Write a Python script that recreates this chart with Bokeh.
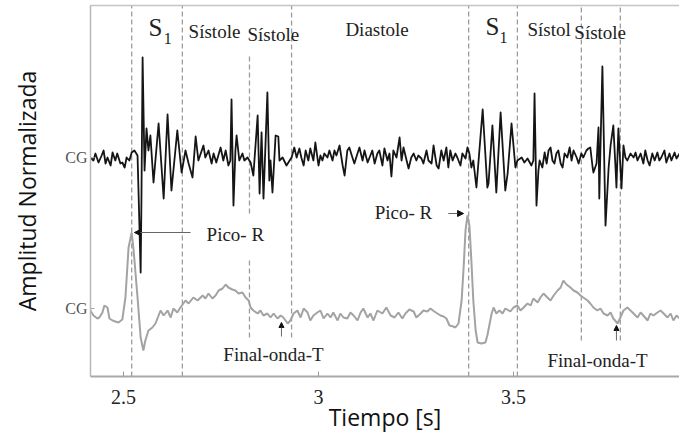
from bokeh.plotting import figure
from bokeh.models import (Range1d, LinearAxis, FixedTicker, CustomJSTickFormatter,
                          Label, Arrow, NormalHead)
from bokeh.embed import file_html
from bokeh.resources import INLINE

# ---------------- data ----------------
# PCG (black trace): time [s] and normalized amplitude around its own baseline
pcg_t = [2.415, 2.423, 2.428, 2.436, 2.444, 2.449, 2.454, 2.459, 2.467, 2.472,
         2.479, 2.484, 2.492, 2.497, 2.503, 2.508, 2.515, 2.521, 2.528, 2.536,
         2.538, 2.544, 2.546, 2.549, 2.554, 2.559, 2.564, 2.569, 2.577, 2.590,
         2.603, 2.613, 2.623, 2.638, 2.649, 2.659, 2.667, 2.677, 2.685, 2.692,
         2.705, 2.710, 2.718, 2.726, 2.731, 2.738, 2.749, 2.756, 2.762, 2.769,
         2.774, 2.777, 2.782, 2.787, 2.790, 2.797, 2.805, 2.810, 2.818, 2.826,
         2.833, 2.844, 2.849, 2.854, 2.859, 2.869, 2.874, 2.877, 2.882, 2.890,
         2.897, 2.900, 2.908, 2.918, 2.926, 2.931, 2.938, 2.944, 2.951, 2.956,
         2.962, 2.967, 2.974, 2.979, 2.987, 2.992, 3.000, 3.005, 3.010, 3.015,
         3.023, 3.028, 3.036, 3.041, 3.046, 3.054, 3.062, 3.067, 3.074, 3.079,
         3.087, 3.092, 3.100, 3.105, 3.113, 3.118, 3.126, 3.131, 3.138, 3.144,
         3.151, 3.156, 3.164, 3.169, 3.177, 3.182, 3.187, 3.192, 3.200, 3.208,
         3.213, 3.218, 3.226, 3.231, 3.238, 3.244, 3.251, 3.256, 3.264, 3.269,
         3.277, 3.282, 3.290, 3.295, 3.303, 3.308, 3.315, 3.321, 3.328, 3.333,
         3.338, 3.344, 3.351, 3.356, 3.364, 3.369, 3.377, 3.382, 3.387, 3.392,
         3.397, 3.405, 3.421, 3.433, 3.436, 3.446, 3.456, 3.467, 3.479, 3.485,
         3.495, 3.505, 3.510, 3.521, 3.528, 3.536, 3.546, 3.551, 3.554, 3.559,
         3.564, 3.567, 3.574, 3.580, 3.585, 3.590, 3.595, 3.600, 3.605, 3.610,
         3.615, 3.621, 3.626, 3.631, 3.638, 3.644, 3.649, 3.654, 3.662, 3.667,
         3.674, 3.679, 3.687, 3.692, 3.697, 3.703, 3.705, 3.713, 3.718, 3.720,
         3.728, 3.736, 3.744, 3.749, 3.756, 3.762, 3.764, 3.769, 3.777, 3.782,
         3.787, 3.792, 3.800, 3.808, 3.813, 3.818, 3.826, 3.833, 3.838, 3.844,
         3.849, 3.856, 3.862, 3.869, 3.874, 3.879, 3.887, 3.892, 3.900, 3.905,
         3.913, 3.918, 3.926]
pcg_a = [0.00, -0.03, 0.04, -0.05, 0.02, 0.07, -0.06, 0.00, -0.08, 0.05,
         -0.03, 0.04, -0.06, -0.05, -0.10, 0.00, -0.03, 0.05, 0.07, 0.02,
         -0.26, -1.15, -0.43, 1.00, -0.13, 0.29, 0.07, 0.22, -0.25, 0.34,
         -0.41, 0.43, -0.33, 0.27, -0.15, 0.07, -0.06, -0.20, 0.21, -0.03,
         0.12, 0.00, 0.07, -0.06, 0.04, -0.05, 0.10, -0.03, 0.07, -0.08,
         -0.03, 0.58, -0.48, 0.07, 0.22, -0.03, 0.04, -0.03, 0.00, -0.05,
         -0.18, 0.42, -0.36, 0.25, -0.41, 0.65, -0.23, -0.03, -0.35, 0.22,
         0.21, -0.03, 0.00, -0.08, -0.03, 0.00, 0.10, 0.00, 0.09, 0.00,
         -0.08, 0.07, -0.03, 0.09, -0.03, 0.15, -0.08, 0.02, -0.03, 0.04,
         0.00, 0.07, -0.03, 0.07, 0.02, 0.12, -0.08, -0.18, 0.07, 0.10,
         0.00, -0.06, 0.04, 0.10, -0.03, 0.07, -0.05, 0.00, 0.07, -0.06,
         0.04, 0.07, -0.08, 0.09, -0.03, 0.04, -0.19, 0.07, 0.00, 0.20,
         -0.03, 0.10, -0.03, -0.11, 0.00, 0.04, -0.03, 0.02, -0.01, -0.06,
         0.07, -0.03, -0.06, 0.12, -0.08, -0.11, 0.07, -0.03, 0.10, -0.10,
         0.07, -0.03, 0.04, 0.00, -0.08, 0.04, -0.01, 0.10, 0.04, -0.10,
         -0.03, -0.30, 0.48, -0.30, -0.26, 0.32, -0.35, 0.45, -0.33, -0.16,
         0.34, -0.10, -0.03, 0.00, -0.05, -0.01, -0.08, -0.03, 0.64, -0.48,
         -0.13, -0.03, -0.10, 0.05, -0.06, 0.07, 0.10, -0.03, -0.06, 0.04,
         0.07, -0.06, -0.10, 0.04, 0.00, 0.10, -0.03, 0.07, 0.00, -0.06,
         0.04, 0.00, 0.07, 0.09, 0.10, -0.10, -0.15, -0.06, 0.30, -0.41,
         0.91, -0.68, -0.10, 0.12, 0.32, -0.13, -0.30, 0.29, -0.31, 0.12,
         0.00, -0.03, 0.04, 0.00, 0.05, -0.03, 0.04, -0.06, 0.07, -0.03,
         -0.08, 0.04, -0.03, 0.05, -0.03, 0.00, 0.07, -0.05, 0.04, -0.03,
         0.05, -0.01, 0.04]

# ECG (gray trace)
ecg_t = [2.415, 2.423, 2.433, 2.438, 2.446, 2.451, 2.459, 2.464, 2.472, 2.479,
         2.487, 2.497, 2.505, 2.513, 2.521, 2.526, 2.536, 2.544, 2.551, 2.556,
         2.564, 2.574, 2.582, 2.595, 2.603, 2.613, 2.621, 2.628, 2.638, 2.646,
         2.659, 2.667, 2.679, 2.690, 2.703, 2.710, 2.718, 2.728, 2.736, 2.744,
         2.754, 2.762, 2.769, 2.779, 2.787, 2.795, 2.805, 2.813, 2.821, 2.826,
         2.833, 2.844, 2.851, 2.859, 2.869, 2.877, 2.885, 2.895, 2.903, 2.910,
         2.921, 2.928, 2.936, 2.946, 2.954, 2.962, 2.972, 2.979, 2.987, 2.997,
         3.005, 3.013, 3.023, 3.031, 3.038, 3.049, 3.056, 3.064, 3.074, 3.082,
         3.090, 3.100, 3.108, 3.115, 3.126, 3.133, 3.141, 3.151, 3.164, 3.174,
         3.185, 3.195, 3.205, 3.215, 3.223, 3.233, 3.244, 3.251, 3.262, 3.269,
         3.279, 3.287, 3.297, 3.305, 3.313, 3.321, 3.328, 3.336, 3.346, 3.351,
         3.359, 3.367, 3.372, 3.377, 3.382, 3.387, 3.392, 3.397, 3.403, 3.408,
         3.418, 3.428, 3.433, 3.438, 3.444, 3.449, 3.456, 3.464, 3.472, 3.479,
         3.492, 3.500, 3.510, 3.518, 3.526, 3.536, 3.544, 3.551, 3.562, 3.569,
         3.577, 3.587, 3.595, 3.603, 3.613, 3.621, 3.628, 3.636, 3.646, 3.654,
         3.664, 3.672, 3.679, 3.690, 3.697, 3.705, 3.715, 3.723, 3.731, 3.741,
         3.749, 3.756, 3.767, 3.774, 3.782, 3.792, 3.800, 3.808, 3.818, 3.826,
         3.833, 3.844, 3.851, 3.859, 3.869, 3.877, 3.885, 3.895, 3.903, 3.910,
         3.918, 3.926]
ecg_a = [-0.02, -0.07, -0.10, -0.09, -0.04, 0.03, 0.01, -0.10, -0.12, -0.13,
         -0.14, -0.11, 0.11, 0.61, 0.76, 0.58, 0.11, -0.29, -0.42, -0.32,
         -0.22, -0.19, -0.15, -0.02, -0.07, -0.02, -0.09, 0.00, -0.04, 0.01,
         0.08, 0.05, 0.11, 0.08, 0.13, 0.10, 0.15, 0.10, 0.13, 0.18,
         0.20, 0.24, 0.21, 0.19, 0.18, 0.15, 0.16, 0.11, 0.08, 0.01,
         -0.02, -0.05, -0.02, -0.07, -0.05, -0.09, -0.05, -0.10, -0.07, -0.09,
         -0.15, -0.12, -0.05, -0.02, -0.09, 0.00, -0.04, -0.12, -0.07, -0.04,
         -0.02, -0.10, -0.05, -0.09, -0.04, -0.12, -0.05, -0.09, -0.10, -0.04,
         -0.07, -0.12, -0.04, 0.00, -0.09, -0.05, -0.12, -0.02, -0.05, 0.01,
         -0.07, -0.09, -0.04, -0.10, -0.05, -0.01, -0.03, -0.09, -0.05, -0.02,
         -0.03, 0.00, -0.03, -0.05, -0.07, -0.08, -0.10, -0.17, -0.18, -0.19,
         -0.15, 0.08, 0.40, 0.78, 0.93, 0.83, 0.48, 0.08, -0.22, -0.34,
         -0.35, -0.34, -0.27, -0.17, -0.05, 0.01, -0.05, -0.02, -0.05, 0.00,
         -0.03, 0.01, 0.03, -0.02, 0.01, 0.05, 0.03, 0.10, 0.06, 0.11,
         0.15, 0.11, 0.08, 0.13, 0.18, 0.21, 0.28, 0.24, 0.21, 0.18,
         0.16, 0.13, 0.11, 0.08, 0.05, 0.01, -0.02, 0.00, -0.05, -0.07,
         -0.04, -0.10, -0.15, -0.09, -0.02, 0.01, -0.02, -0.05, -0.09, -0.04,
         -0.07, -0.12, -0.05, -0.07, -0.04, -0.02, -0.05, -0.09, -0.05, -0.12,
         -0.07, -0.10]

# event markers (dashed lines), seconds
eventos_t = [2.521, 2.651, 2.823, 2.931, 3.385, 3.510, 3.674, 3.774]
x_ticks = [2.5, 3.0, 3.5]

# ---------------- layout ----------------
PCG_OFF = 1.51
ECG_OFF = 0.0
Y0, Y1 = -0.68, 3.03
X0, X1 = 2.4154, 3.9257
SERIF = "Liberation Serif"
SANS = "Open Sans"

p = figure(width=679, height=437, x_range=Range1d(X0, X1), y_range=Range1d(Y0, Y1),
           output_backend="svg", toolbar_location=None,
           min_border_left=90, min_border_right=0, min_border_top=5, min_border_bottom=61,
           x_axis_label="Tiempo [s]", y_axis_label="Amplitud Normalizada")
p.grid.visible = False
p.outline_line_color = None
p.background_fill_color = "white"
p.border_fill_color = "white"

# x axis
xa = p.xaxis[0]
xa.ticker = FixedTicker(ticks=x_ticks, minor_ticks=[])
xa.formatter = CustomJSTickFormatter(code="return String(tick)")
xa.major_label_text_font = SERIF
xa.major_label_text_font_size = "20px"
xa.major_label_text_color = "#222222"
xa.major_label_standoff = 13
xa.major_tick_in = 5
xa.major_tick_out = 0
xa.minor_tick_line_color = None
xa.major_tick_line_color = "#9a9a9a"
xa.axis_line_color = "#a8a8a8"
xa.axis_line_width = 2
xa.axis_label_text_font = SANS
xa.axis_label_text_font_size = "23px"
xa.axis_label_text_font_style = "normal"
xa.axis_label_text_color = "#111111"
xa.axis_label_standoff = -6

# y axis
ya = p.yaxis[0]
ya.ticker = FixedTicker(ticks=[ECG_OFF, PCG_OFF], minor_ticks=[])
ya.formatter = CustomJSTickFormatter(code="return 'CG'")
ya.major_label_text_font = SERIF
ya.major_label_text_font_size = "16px"
ya.major_label_text_color = "#555555"
ya.major_label_standoff = 3
ya.major_tick_in = 4
ya.major_tick_out = 0
ya.major_tick_line_color = "#aaaaaa"
ya.minor_tick_line_color = None
ya.axis_line_color = "#b8b8b8"
ya.axis_line_width = 1.5
ya.axis_label_text_font = SANS
ya.axis_label_text_font_size = "23px"
ya.axis_label_text_font_style = "normal"
ya.axis_label_text_color = "#111111"
ya.axis_label_standoff = 19

# top border: an axis line with no ticks or labels
top = LinearAxis(ticker=FixedTicker(ticks=[], minor_ticks=[]),
                 major_label_standoff=0, major_tick_in=0, major_tick_out=0,
                 minor_tick_line_color=None, major_tick_line_color=None,
                 axis_line_color="#c4c4c4", axis_line_width=1.5)
p.add_layout(top, "above")

# dashed event lines
seg_x, seg_y0, seg_y1 = [], [], []
extents = [[(Y0, Y1)], [(Y0, Y1)], [(0.95, 2.53), (-0.29, 0.48)], [(-0.29, Y1)],
           [(Y0, Y1)], [(Y0, Y1)], [(-0.32, 3.01)], [(-0.32, Y1)]]
for t, ext in zip(eventos_t, extents):
    for a, b in ext:
        seg_x.append(t)
        seg_y0.append(a)
        seg_y1.append(b)
p.segment(x0=seg_x, y0=seg_y0, x1=seg_x, y1=seg_y1, line_dash="5 3",
          line_color="#9c9c9c", line_width=1.3)

# traces
p.line(ecg_t, [ECG_OFF + v for v in ecg_a], line_color="#a3a3a3", line_width=2)
p.line(pcg_t, [PCG_OFF + v for v in pcg_a], line_color="#151515", line_width=1.8,
       line_join="round")

# annotations
def lab(x, y, text, size="19px", color="#222222"):
    p.add_layout(Label(x=x, y=y, text=text, text_font=SERIF, text_font_size=size,
                       text_color=color, text_baseline="middle", text_align="left"))

lab(2.564, 2.81, "S", "25px")
lab(2.603, 2.70, "1", "16px")
lab(3.428, 2.82, "S", "25px")
lab(3.464, 2.71, "1", "16px")
lab(2.667, 2.77, "Sístole")
lab(2.818, 2.74, "Sístole")
lab(3.069, 2.79, "Diastole")
lab(3.536, 2.79, "Sístol")
lab(3.656, 2.76, "Sístole")
lab(2.713, 0.74, "Pico- R")
lab(3.144, 0.96, "Pico- R")
lab(2.756, -0.46, "Final-onda-T")
lab(3.587, -0.52, "Final-onda-T")

def arrow(x0, y0, x1, y1, size=6):
    p.add_layout(Arrow(end=NormalHead(size=size, fill_color="#111111", line_color="#111111"),
                       x_start=x0, y_start=y0, x_end=x1, y_end=y1,
                       line_color="#666666", line_width=1))

arrow(2.672, 0.76, 2.528, 0.76)
arrow(3.333, 0.95, 3.372, 0.95)
arrow(2.905, -0.28, 2.905, -0.14, 5)
arrow(3.764, -0.32, 3.764, -0.17, 5)

open("out.html", "w").write(file_html(p, INLINE))
